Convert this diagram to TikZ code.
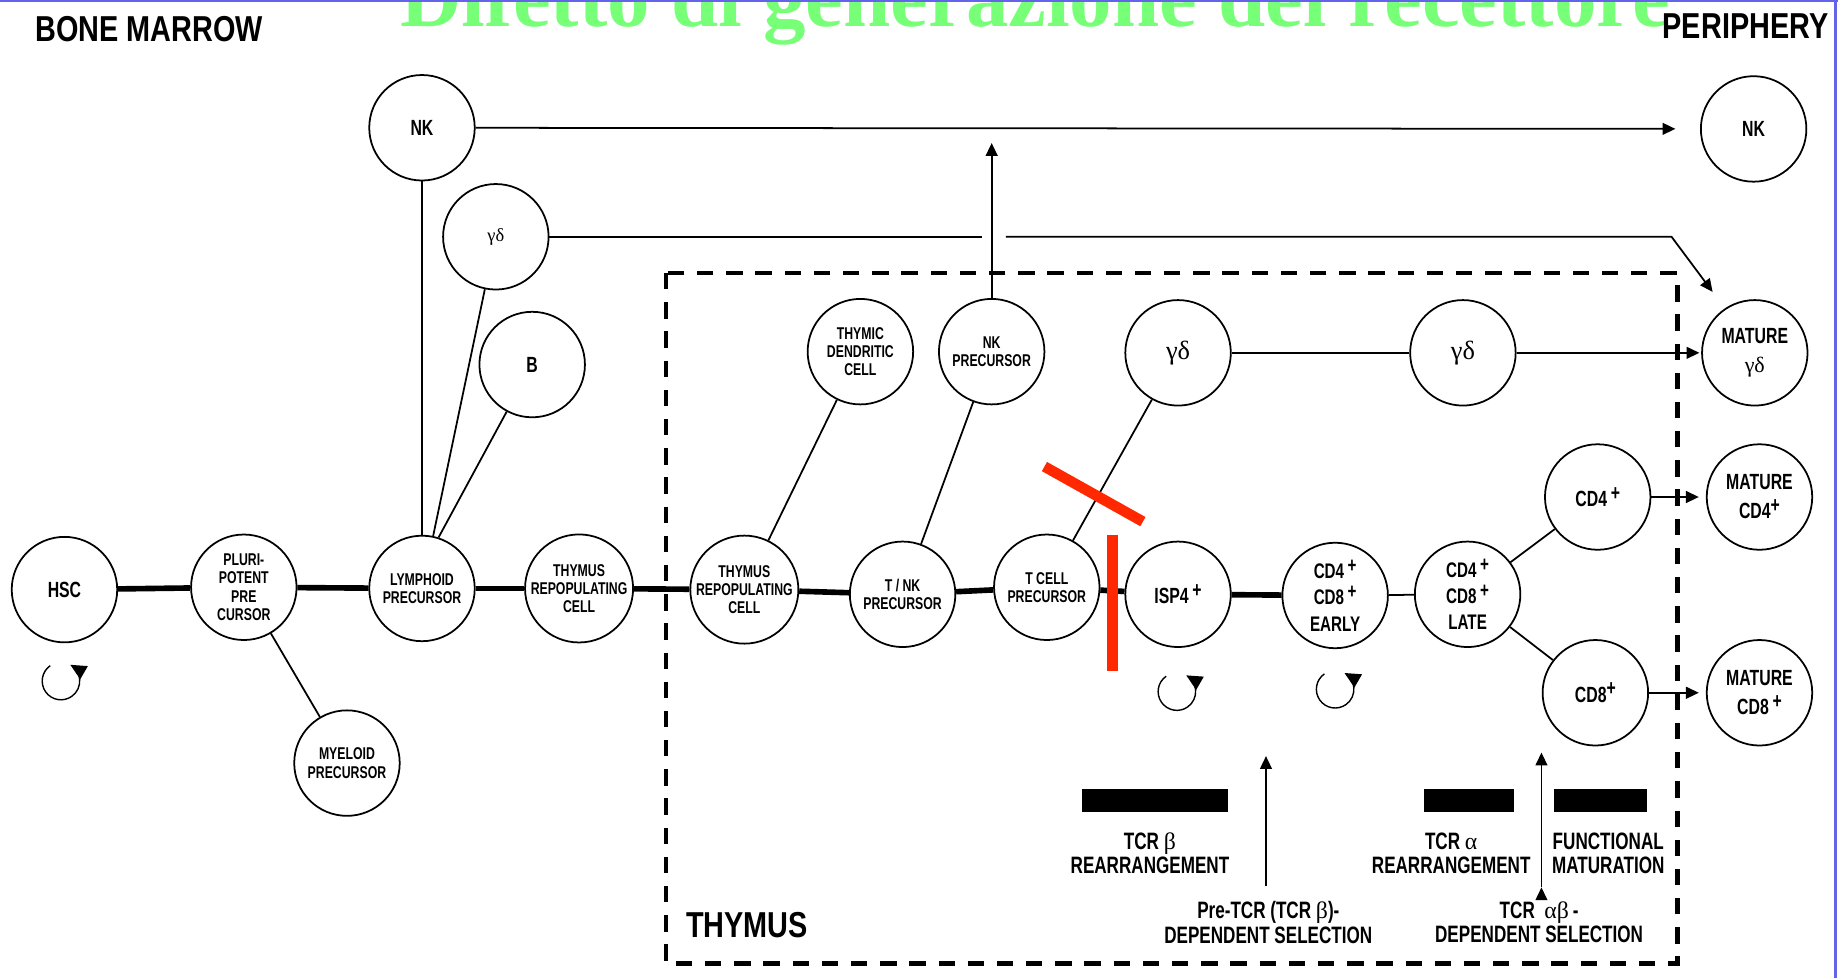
\documentclass[tikz,border=0pt]{standalone}
\usepackage{fontspec}
\setmainfont{Liberation Serif}
\newfontfamily\labfont{Liberation Sans}[FakeStretch=0.72]
\newfontfamily\headfont{Liberation Sans}[FakeStretch=0.8]
\usepackage{tikz}
\usetikzlibrary{arrows.meta}
\definecolor{titlegreen}{RGB}{120,255,120}
\definecolor{slideblue}{RGB}{100,100,235}
\definecolor{strikered}{RGB}{255,40,0}
\newcommand{\pl}{\raisebox{0.55ex}{+}}
\newcommand{\gk}[1]{{\rmfamily\mdseries #1}}

\begin{document}
\begin{tikzpicture}[x=0.6667pt, y=-0.6667pt, >={Triangle[length=7.3pt,width=6.7pt]}]
% Setup the styles for the cells
\tikzset{cell style/.style={circle,
		draw,
		line width=1pt,
		minimum size=60pt,
		inner sep=0pt,
		align=center,
		fill=white,
		font=\labfont\bfseries\fontsize{9.7pt}{10.4pt}\selectfont},
	big cell style/.style={cell style,
		font=\labfont\bfseries\fontsize{12.5pt}{16.5pt}\selectfont},
	head style/.style={inner sep=0pt,
		font=\headfont\bfseries\fontsize{20.5pt}{22pt}\selectfont},
	note style/.style={align=center, inner sep=0pt,
		font=\labfont\bfseries\fontsize{13.5pt}{13.8pt}\selectfont},
	trunk style/.style={line width=3.2pt},
	branch style/.style={line width=1pt},
	dash box/.style={line width=2.4pt, dash pattern=on 9.3pt off 7.3pt},
	strike style/.style={strikered, line width=6pt},
	renew style/.style={line width=0.8pt, -{Triangle[length=9pt,width=8.5pt]}}}

\useasboundingbox (0,0) rectangle (1568,834);
\fill[white] (0,0) rectangle (1568,834);
\clip (0,0) rectangle (1568,834);

% Title and region names
\node[anchor=base west, inner sep=0pt, text=titlegreen,
	font=\bfseries\fontsize{48.3pt}{50pt}\selectfont] (title) at (341,23) {Difetto di generazione del recettore};
\node[head style, anchor=base west] (bm)   at (30,35)   {BONE MARROW};
\node[head style, anchor=base east] (peri) at (1560,33) {PERIPHERY};
\node[head style, anchor=base west] (thy)  at (585,800) {THYMUS};

% The thymus box
\draw[dash box] (568,233) rectangle (1431,822);

% Draw the cells of the bone marrow
\node[big cell style] (hsc)    at (55,503)  {HSC};
\node[cell style]     (pluri)  at (208,501) {PLURI-\\POTENT\\PRE\\CURSOR};
\node[cell style]     (myel)   at (296,651) {MYELOID\\PRECURSOR};
\node[cell style]     (lymph)  at (360,502) {LYMPHOID\\PRECURSOR};
\node[big cell style] (nkbm)   at (360,109) {NK};
\node[cell style]     (gdbm)   at (423,202) {\fontsize{10.5pt}{11pt}\selectfont\gk{γδ}};
\node[big cell style] (bcell)  at (454,311) {B};
\node[cell style]     (threpa) at (494,502) {THYMUS\\REPOPULATING\\CELL};

% Draw the cells of the thymus
\node[cell style]     (threpb) at (635,503)  {THYMUS\\REPOPULATING\\CELL};
\node[cell style]     (thdc)   at (734,300)  {THYMIC\\DENDRITIC\\CELL};
\node[cell style]     (nkpre)  at (846,300)  {NK\\PRECURSOR};
\node[cell style]     (tnk)    at (770,507)  {T / NK\\PRECURSOR};
\node[cell style]     (tcell)  at (893,501)  {T\ CELL\\PRECURSOR};
\node[big cell style] (gda)    at (1005,301) {\fontsize{15pt}{16pt}\selectfont\gk{γδ}};
\node[big cell style] (gdb)    at (1248,301) {\fontsize{15pt}{16pt}\selectfont\gk{γδ}};
\node[big cell style] (isp)    at (1005,507) {ISP4\,\pl};
\node[cell style, font=\labfont\bfseries\fontsize{12pt}{15pt}\selectfont]
                      (early)  at (1139,508) {CD4\,\pl\\CD8\,\pl\\EARLY};
\node[cell style, font=\labfont\bfseries\fontsize{12pt}{15pt}\selectfont]
                      (late)   at (1252,507) {CD4\,\pl\\CD8\,\pl\\LATE};
\node[big cell style] (cdfour)  at (1363,424) {CD4\,\pl};
\node[big cell style] (cdeight) at (1361,591) {CD8\pl};

% Draw the cells of the periphery
\node[big cell style] (nkper)    at (1496,110) {NK};
\node[big cell style] (matgd)    at (1497,301) {MATURE\\\gk{γδ}};
\node[big cell style] (matfour)  at (1501,424) {MATURE\\CD4\pl};
\node[big cell style] (mateight) at (1501,591) {MATURE\\CD8\,\pl};

% Free ends of the arrows
\coordinate (gdgapl) at (838,202);
\coordinate (gdgapr) at (858,202);
\coordinate (gdbend) at (1426,202);
\coordinate (gdtip)  at (1461,249);
\coordinate (nkup)   at (846,122);
\coordinate (selpre) at (1080,756);
\coordinate (selpretip) at (1080,645);
\coordinate (selab)  at (1315,757);
\coordinate (selabtip) at (1315,642);

% Connect the cells
\draw[trunk style]
(hsc)    edge (pluri)
(pluri)  edge (lymph)
(lymph)  edge (threpa)
(threpa) edge (threpb)
(threpb) edge (tnk)
(tnk)    edge (tcell)
(tcell)  edge (isp)
(isp)    edge (early);
\draw[branch style]
(pluri)  edge (myel)
(nkbm)   edge (lymph.north)
(gdbm)   edge (lymph.78)
(bcell)  edge (lymph.72)
(threpb) edge (thdc)
(tnk)    edge (nkpre)
(tcell)  edge (gda)
(gda)    edge (gdb)
(early)  edge (late)
(late)   edge (cdfour)
(late)   edge (cdeight);
\draw[branch style, ->]
(nkbm)    edge[shorten >=14pt] (nkper)
(gdb)     edge[shorten >=1pt]  (matgd)
(cdfour)  edge[shorten >=4pt]  (matfour)
(cdeight) edge[shorten >=4pt]  (mateight)
(nkpre)   edge (nkup)
(selpre)  edge (selpretip)
(selab)   edge (selabtip);
\draw[branch style] (gdbm) -- (gdgapl);
\draw[branch style, ->] (gdgapr) -- (gdbend) -- (gdtip);

% Self renewal
\foreach \cx/\cy in {52/581, 1004/590, 1139/588}{
	\begin{scope}[shift={(\cx,\cy)}, y=0.6667pt]
		\draw[renew style] (125:16) arc[start angle=125, end angle=420, radius=16];
	\end{scope}
}

% Rearrangement bars and selection notes
\fill (923,673) rectangle (1048,693);
\fill (1215,673) rectangle (1292,693);
\fill (1326,673) rectangle (1405,693);
\node[note style] (tcrb)  at (981,728)  {TCR \gk{β}\\REARRANGEMENT};
\node[note style] (tcra)  at (1238,728) {TCR \gk{α}\\REARRANGEMENT};
\node[note style] (funct) at (1372,728) {FUNCTIONAL\\MATURATION};
\node[note style] (presel) at (1082,787) {Pre-TCR (TCR \gk{β})-\\DEPENDENT SELECTION};
\node[note style] (absel)  at (1313,787) {TCR\ \ \gk{αβ}\,-\\DEPENDENT SELECTION};

% Red strikes
\draw[strike style] (949,456) -- (949,572);
\draw[strike style] (891,398) -- (975,445);

% Slide frame
\draw[slideblue, line width=1.2pt] (0,1) -- (1568,1);
\draw[slideblue, line width=2pt] (1566,0) -- (1566,834);
\end{tikzpicture}
\end{document}
